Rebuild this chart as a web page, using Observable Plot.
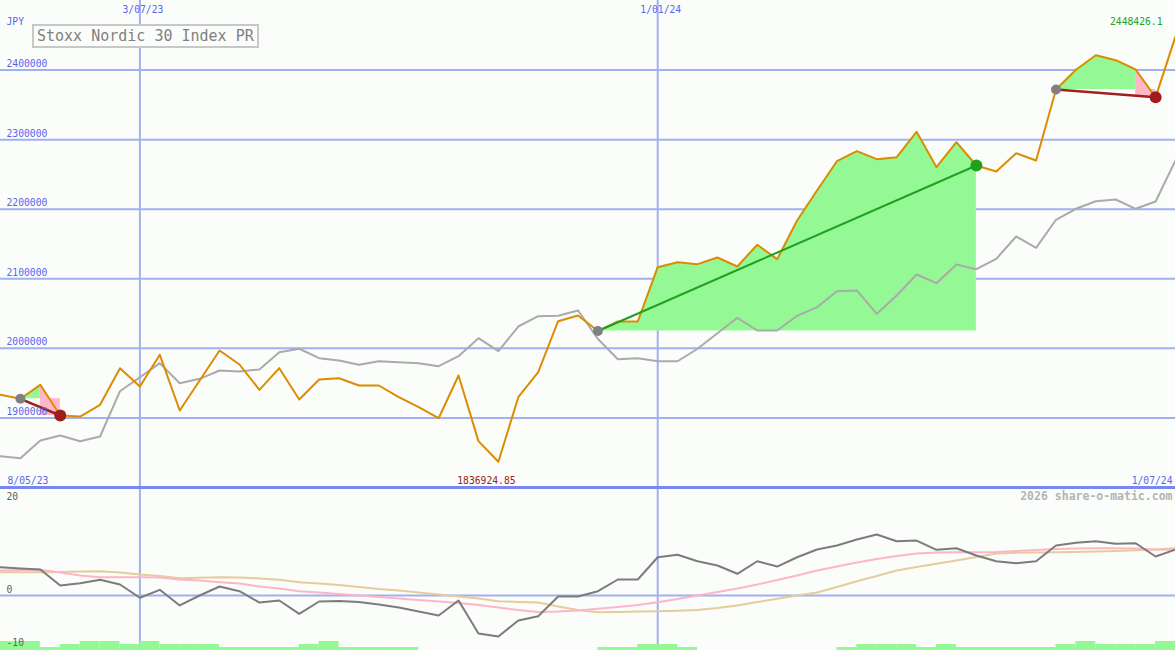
<!DOCTYPE html>
<html><head><meta charset="utf-8">
<script src="https://cdn.jsdelivr.net/npm/d3@7"></script>
<script src="https://cdn.jsdelivr.net/npm/@observablehq/plot@0.6"></script>
<style>
html,body{margin:0;padding:0;background:#fbfdfb;}
#wrap{position:relative;width:1175px;height:650px;overflow:hidden;background:#fbfdfb;}
#wrap svg{display:block;}
#title{position:absolute;left:32px;top:24px;width:227px;height:24px;box-sizing:border-box;border:2px solid #c8c8c8;
 font:15px "DejaVu Sans Mono",monospace;color:#808080;line-height:20px;padding-left:3px;background:#fbfdfb;z-index:2;white-space:nowrap;}
</style></head><body>
<div id="wrap"><div id="title">Stoxx Nordic 30 Index PR</div></div>
<script>
// ---- data ----
const dates = d3.utcMonday.range(new Date("2023-05-15"), new Date("2024-07-02")); // 60 weekly points
const orange = [1933200,1927500,1947600,1903500,1902000,1918900,1971500,1945200,1990700,1910700,
  1953800,1996900,1976800,1940400,1971500,1926500,1955200,1957100,1946600,1946600,
  1929800,1915400,1899600,1961000,1866600,1836924.85,1929800,1965700,2039000,2047200,
  2025000,2038600,2038600,2116700,2123900,2121000,2130600,2117700,2148900,2128200,
  2183800,2226900,2269000,2283400,2271900,2274800,2311300,2260400,2296300,2262800,
  2254200,2280500,2270000,2372100,2400400,2421400,2414200,2400800,2360800,2448426.1];
const gray = [1845000,1842100,1867600,1874700,1866500,1873300,1938400,1958500,1978700,1949900,
  1956200,1968200,1966700,1969600,1994500,1999400,1985900,1982500,1976400,1981500,
  1980100,1978700,1974400,1988700,2014600,1995900,2031400,2046200,2047000,2054400,
  2013400,1984400,1985900,1981500,1981500,1999400,2021800,2043900,2025700,2025700,
  2046800,2059200,2082200,2083200,2049700,2076000,2106200,2093700,2120500,2113800,
  2128700,2160800,2144500,2184800,2200600,2211500,2214000,2200600,2211100,2270000];
const momentum = [5.81,5.54,5.34,2.05,2.53,3.22,2.26,-0.47,1.17,-2.05,
  0,1.85,0.88,-1.44,-1.03,-3.76,-1.23,-1.13,-1.33,-1.85,
  -2.46,-3.29,-4.11,-1.03,-7.80,-8.42,-5.13,-4.25,-0.21,-0.21,
  0.88,3.29,3.29,7.86,8.36,7.04,6.16,4.46,7.04,5.95,
  7.86,9.45,10.27,11.5,12.53,11.15,11.29,9.38,9.71,8.21,
  7.04,6.63,7.04,10.27,10.82,11.15,10.62,10.74,8.01,9.45];
const maShort = [5.13,5.24,5.28,4.72,4.11,3.76,3.76,3.76,3.70,3.29,
  3.08,2.73,2.46,1.85,1.44,0.88,0.62,0.31,0,-0.31,
  -0.62,-0.92,-1.23,-1.54,-1.95,-2.46,-2.98,-3.39,-3.29,-3.08,
  -2.73,-2.36,-1.95,-1.38,-0.72,0,0.72,1.44,2.26,3.18,
  4.11,5.13,5.95,6.78,7.49,8.11,8.62,8.83,8.89,8.89,
  8.93,9.14,9.34,9.55,9.65,9.71,9.71,9.65,9.45,9.38];
const maLong = [4.78,4.78,4.78,4.83,4.93,4.99,4.72,4.31,4.00,3.55,
  3.66,3.76,3.70,3.49,3.22,2.73,2.46,2.16,1.75,1.33,
  1.03,0.62,0.21,-0.21,-0.62,-1.17,-1.33,-1.44,-2.26,-2.98,
  -3.43,-3.39,-3.29,-3.22,-3.12,-2.98,-2.57,-2.05,-1.33,-0.68,
  0,0.62,1.75,2.94,4.00,5.13,5.85,6.51,7.19,7.91,
  8.62,8.77,8.83,8.89,8.93,9.03,9.14,9.28,9.45,9.71];
const volLevels = [3,3,1,2,3,3,2,3,2,2, 2,1,1,1,1,2,3,1,1,1,
  1,0,0,0,0,0,0,0,0,0, 1,1,2,2,1,0,0,0,0,0,
  0,0,1,2,2,2,1,2,1,1, 1,1,1,2,3,2,2,2,3];
const gridValues = [1900000,2000000,2100000,2200000,2300000,2400000];
const gridLabels = ["1900000","2000000","2100000","2200000","2300000","2400000"];
const vDates = [new Date("2023-07-03"), new Date("2024-01-01")];
const vLabels = ["3/07/23","1/01/24"];
const startLabel = "8/05/23", endLabel = "1/07/24";
const lowLabel = "1836924.85", highLabel = "2448426.1";
const trends = [{from:1,to:3},{from:30,to:49},{from:53,to:58}];
const oscTicks = [20,0,-10];

// ---- styles ----
const BG = "#fbfdfb", GRID = "#a0b0f0", LBL = "#5566ee";
const GREEN_FILL = "#94f994", PINK_FILL = "#ffb6c6";
const FONT = "DejaVu Sans Mono, monospace";

// ---- derived ----
const greenAreas = [], pinkAreas = [];
trends.forEach((t, k) => {
  const base = orange[t.from], endV = orange[t.to];
  t.gain = endV >= base;
  const gEnd = t.gain ? t.to : t.to - 1;
  for (let i = t.from; i <= gEnd; i++) greenAreas.push({k, date: dates[i], y1: base, y2: orange[i]});
  if (!t.gain) {
    const i0 = t.to - 1, i1 = t.to, a = orange[i0], b = orange[i1];
    pinkAreas.push({k, date: dates[i0], y1: endV, y2: Math.max(a, base)});
    if ((a - base) * (b - base) < 0) {
      const f = (a - base) / (a - b);
      pinkAreas.push({k, date: new Date(+dates[i0] + f * (dates[i1] - dates[i0])), y1: endV, y2: base});
    }
    pinkAreas.push({k, date: dates[i1], y1: endV, y2: Math.max(b, base)});
  }
});
const series = dates.map((d, i) => ({date: d, o: orange[i], g: gray[i], m: momentum[i], s: maShort[i], l: maLong[i]}));
const iMin = orange.indexOf(d3.min(orange)), iMax = orange.indexOf(d3.max(orange));
const bars = volLevels.map((v, i) => ({x1: dates[i], x2: dates[i + 1], v})).filter(d => d.v > 0);
const xDomain = [dates[0], dates[dates.length - 1]];

// ---- main panel ----
const main = Plot.plot({
  width: 1175, height: 489, margin: 0,
  style: {background: BG, fontFamily: FONT, fontSize: "9.7px"},
  x: {type: "utc", domain: xDomain, range: [0, 1175], axis: null},
  y: {domain: [1800000, 2500000], range: [487, 0], axis: null},
  marks: [
    Plot.ruleY(gridValues, {stroke: GRID, strokeWidth: 2}),
    Plot.ruleX(vDates, {stroke: GRID, strokeWidth: 2}),
    Plot.ruleY([1800000], {stroke: "#7888f0", strokeWidth: 3}),
    Plot.areaY(greenAreas, {x: "date", y1: "y1", y2: "y2", z: "k", fill: GREEN_FILL}),
    Plot.areaY(pinkAreas, {x: "date", y1: "y1", y2: "y2", z: "k", fill: PINK_FILL}),
    Plot.line(series, {x: "date", y: "g", stroke: "#aaaaaa", strokeWidth: 2}),
    Plot.line(series, {x: "date", y: "o", stroke: "#dc8c00", strokeWidth: 2}),
    Plot.link(trends, {x1: d => dates[d.from], y1: d => orange[d.from], x2: d => dates[d.to], y2: d => orange[d.to],
      stroke: d => d.gain ? "#20a020" : "#a02020", strokeWidth: d => d.gain ? 2 : 2.5}),
    Plot.dot(trends, {x: d => dates[d.from], y: d => orange[d.from], r: 5, fill: "#808080"}),
    Plot.dot(trends, {x: d => dates[d.to], y: d => orange[d.to], r: 6, fill: d => d.gain ? "#20a020" : "#a01c1c"}),
    Plot.text(gridValues, {x: xDomain[0], y: d => d, text: (d, i) => gridLabels[i], textAnchor: "start", lineAnchor: "bottom", dx: 6, dy: -3, fill: LBL}),
    Plot.text(["JPY"], {frameAnchor: "top-left", text: d => d, textAnchor: "start", lineAnchor: "bottom", dx: 6, dy: 24, fill: LBL}),
    Plot.text(vDates, {x: d => d, frameAnchor: "top", text: (d, i) => vLabels[i], lineAnchor: "bottom", dy: 12.5, dx: 3, fill: LBL}),
    Plot.text([startLabel], {frameAnchor: "bottom-left", text: d => d, textAnchor: "start", lineAnchor: "bottom", dx: 7, dy: -6, fill: LBL}),
    Plot.text([endLabel], {frameAnchor: "bottom-right", text: d => d, textAnchor: "end", lineAnchor: "bottom", dx: -3, dy: -6, fill: LBL}),
    Plot.text([lowLabel], {x: dates[iMin], frameAnchor: "bottom", text: d => d, lineAnchor: "bottom", dx: -12, dy: -6, fill: "#a02020"}),
    Plot.text([highLabel], {x: dates[iMax], frameAnchor: "top", text: d => d, textAnchor: "end", lineAnchor: "bottom", dx: -13, dy: 24.5, fill: "#20a020"})
  ]
});

// ---- oscillator panel ----
const osc = Plot.plot({
  width: 1175, height: 161, margin: 0,
  style: {background: BG, fontFamily: FONT, fontSize: "9.7px"},
  x: {type: "utc", domain: xDomain, range: [0, 1175], axis: null},
  y: {domain: [-11.3, 21.78], range: [161, 0], axis: null},
  marks: [
    Plot.ruleX(vDates, {stroke: GRID, strokeWidth: 2}),
    Plot.ruleY([0], {stroke: GRID, strokeWidth: 2}),
    Plot.rectY(bars, {x1: "x1", x2: "x2", y1: -11.3, y2: d => -11.3 + d.v * 0.62, fill: GREEN_FILL}),
    Plot.line(series, {x: "date", y: "l", stroke: "#e4cc9c", strokeWidth: 2}),
    Plot.line(series, {x: "date", y: "s", stroke: "#ffb4c8", strokeWidth: 2}),
    Plot.line(series, {x: "date", y: "m", stroke: "#7c7c7c", strokeWidth: 2}),
    Plot.text(oscTicks.filter(d => d !== 0), {x: xDomain[0], y: d => d, text: d => String(d), textAnchor: "start", lineAnchor: "bottom", dx: 6, dy: 1.5, fill: "#606060"}),
    Plot.text(oscTicks.filter(d => d === 0), {x: xDomain[0], y: d => d, text: d => String(d), textAnchor: "start", lineAnchor: "bottom", dx: 6, dy: -2.5, fill: "#606060"}),
    Plot.text(["2026 share-o-matic.com"], {frameAnchor: "top-right", text: d => d, textAnchor: "end", lineAnchor: "bottom", dx: -3, dy: 10, fill: "#b4b4b4", fontWeight: "bold", fontSize: 11.5})
  ]
});

const wrap = document.getElementById("wrap");
wrap.insertBefore(osc, wrap.firstChild);
wrap.insertBefore(main, wrap.firstChild);
</script>
</body></html>
